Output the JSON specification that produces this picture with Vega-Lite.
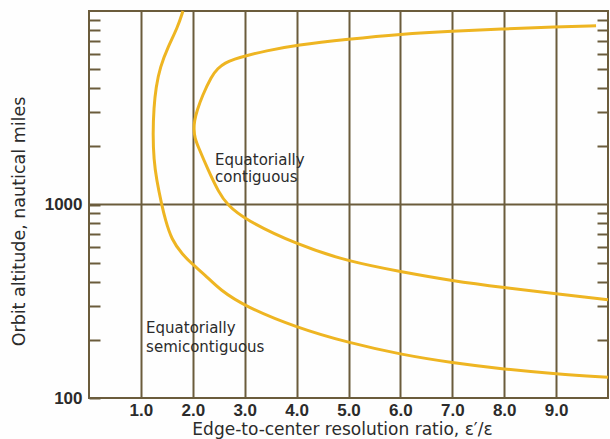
{
  "$schema": "https://vega.github.io/schema/vega-lite/v6.json",
  "width": 519,
  "height": 387,
  "autosize": "none",
  "padding": {"left": 89, "top": 11, "right": 2, "bottom": 41},
  "background": "#fefefe",
  "config": {
    "view": {"stroke": "#6b5c3c", "strokeWidth": 2},
    "font": "DejaVu Sans"
  },
  "datasets": {
    "curves": [
      {"series": "semi", "order": 1, "ratio": 1.81, "alt": 10000},
      {"series": "semi", "order": 2, "ratio": 1.71, "alt": 8260},
      {"series": "semi", "order": 3, "ratio": 1.52, "alt": 6500},
      {"series": "semi", "order": 4, "ratio": 1.37, "alt": 5130},
      {"series": "semi", "order": 5, "ratio": 1.29, "alt": 4040},
      {"series": "semi", "order": 6, "ratio": 1.25, "alt": 3180},
      {"series": "semi", "order": 7, "ratio": 1.23, "alt": 2305},
      {"series": "semi", "order": 8, "ratio": 1.25, "alt": 1700},
      {"series": "semi", "order": 9, "ratio": 1.30, "alt": 1350},
      {"series": "semi", "order": 10, "ratio": 1.40, "alt": 1000},
      {"series": "semi", "order": 11, "ratio": 1.47, "alt": 836},
      {"series": "semi", "order": 12, "ratio": 1.59, "alt": 659},
      {"series": "semi", "order": 13, "ratio": 1.80, "alt": 551},
      {"series": "semi", "order": 14, "ratio": 2.0, "alt": 489},
      {"series": "semi", "order": 15, "ratio": 2.27, "alt": 424},
      {"series": "semi", "order": 16, "ratio": 2.52, "alt": 363},
      {"series": "semi", "order": 17, "ratio": 3.0, "alt": 298},
      {"series": "semi", "order": 18, "ratio": 4.0, "alt": 231},
      {"series": "semi", "order": 19, "ratio": 5.0, "alt": 193},
      {"series": "semi", "order": 20, "ratio": 6.0, "alt": 168},
      {"series": "semi", "order": 21, "ratio": 7.0, "alt": 152},
      {"series": "semi", "order": 22, "ratio": 8.0, "alt": 141},
      {"series": "semi", "order": 23, "ratio": 9.0, "alt": 133},
      {"series": "semi", "order": 24, "ratio": 10.0, "alt": 128},
      {"series": "contig", "order": 1, "ratio": 9.77, "alt": 8380},
      {"series": "contig", "order": 2, "ratio": 9.0, "alt": 8270},
      {"series": "contig", "order": 3, "ratio": 8.0, "alt": 8070},
      {"series": "contig", "order": 4, "ratio": 7.0, "alt": 7880},
      {"series": "contig", "order": 5, "ratio": 6.0, "alt": 7600},
      {"series": "contig", "order": 6, "ratio": 5.0, "alt": 7160},
      {"series": "contig", "order": 7, "ratio": 4.0, "alt": 6670},
      {"series": "contig", "order": 8, "ratio": 3.39, "alt": 6210},
      {"series": "contig", "order": 9, "ratio": 3.0, "alt": 5850},
      {"series": "contig", "order": 10, "ratio": 2.81, "alt": 5650},
      {"series": "contig", "order": 11, "ratio": 2.62, "alt": 5400},
      {"series": "contig", "order": 12, "ratio": 2.48, "alt": 5050},
      {"series": "contig", "order": 13, "ratio": 2.36, "alt": 4600},
      {"series": "contig", "order": 14, "ratio": 2.18, "alt": 3630},
      {"series": "contig", "order": 15, "ratio": 2.08, "alt": 3050},
      {"series": "contig", "order": 16, "ratio": 2.03, "alt": 2700},
      {"series": "contig", "order": 17, "ratio": 2.02, "alt": 2450},
      {"series": "contig", "order": 18, "ratio": 2.04, "alt": 2200},
      {"series": "contig", "order": 19, "ratio": 2.10, "alt": 2000},
      {"series": "contig", "order": 20, "ratio": 2.29, "alt": 1518},
      {"series": "contig", "order": 21, "ratio": 2.50, "alt": 1154},
      {"series": "contig", "order": 22, "ratio": 2.66, "alt": 1000},
      {"series": "contig", "order": 23, "ratio": 3.0, "alt": 836},
      {"series": "contig", "order": 24, "ratio": 4.0, "alt": 621},
      {"series": "contig", "order": 25, "ratio": 5.0, "alt": 507},
      {"series": "contig", "order": 26, "ratio": 6.0, "alt": 450},
      {"series": "contig", "order": 27, "ratio": 7.0, "alt": 403},
      {"series": "contig", "order": 28, "ratio": 8.0, "alt": 372},
      {"series": "contig", "order": 29, "ratio": 9.0, "alt": 346},
      {"series": "contig", "order": 30, "ratio": 10.0, "alt": 322}
    ],
    "labels": [
      {"ratio": 2.43, "alt": 1592, "text": "Equatorially"},
      {"ratio": 2.43, "alt": 1300, "text": "contiguous"},
      {"ratio": 1.10, "alt": 217, "text": "Equatorially"},
      {"ratio": 1.10, "alt": 173, "text": "semicontiguous"}
    ],
    "refline": [{"alt": 1000}]
  },
  "layer": [
    {
      "data": {"name": "refline"},
      "mark": {"type": "rule", "color": "#6b5c3c", "strokeWidth": 2},
      "encoding": {
        "y": {
          "field": "alt", "type": "quantitative",
          "scale": {"type": "log", "domain": [100, 10000]},
          "axis": {
            "orient": "right",
            "values": [200, 300, 400, 500, 600, 700, 800, 900, 2000, 3000, 4000, 5000, 6000, 7000, 8000, 9000],
            "labels": false, "title": null, "domain": false, "grid": false,
            "tickSize": -11, "tickColor": "#6b5c3c", "tickWidth": 2
          }
        }
      }
    },
    {
      "data": {"name": "curves"},
      "mark": {"type": "line", "color": "#EEB522", "strokeWidth": 3, "interpolate": "basis"},
      "encoding": {
        "x": {
          "field": "ratio", "type": "quantitative",
          "scale": {"domain": [0, 10], "nice": false},
          "axis": {
            "values": [1, 2, 3, 4, 5, 6, 7, 8, 9],
            "format": ".1f",
            "grid": true, "gridColor": "#6b5c3c", "gridWidth": 2, "gridOpacity": 1,
            "domain": false, "ticks": false,
            "labelFont": "Liberation Sans", "labelFontSize": 17, "labelFontWeight": "bold",
            "labelColor": "#2b2b2b", "labelPadding": 4,
            "title": "Edge-to-center resolution ratio, ε′/ε",
            "titleFont": "DejaVu Sans", "titleFontSize": 17, "titleFontWeight": "normal",
            "titleColor": "#2b2b2b", "titlePadding": 3, "titleX": 253
          }
        },
        "y": {
          "field": "alt", "type": "quantitative",
          "scale": {"type": "log", "domain": [100, 10000]},
          "axis": {
            "orient": "left",
            "values": [100, 200, 300, 400, 500, 600, 700, 800, 900, 1000, 2000, 3000, 4000, 5000, 6000, 7000, 8000, 9000],
            "labelExpr": "datum.value == 100 || datum.value == 1000 ? format(datum.value, 'd') : ''",
            "domain": false, "grid": false,
            "tickSize": -11, "tickColor": "#6b5c3c", "tickWidth": 2,
            "labelFont": "Liberation Sans", "labelFontSize": 17, "labelFontWeight": "bold",
            "labelColor": "#2b2b2b", "labelPadding": 18,
            "title": "Orbit altitude, nautical miles",
            "titleFont": "DejaVu Sans", "titleFontSize": 17.5, "titleFontWeight": "normal",
            "titleColor": "#2b2b2b", "titlePadding": 16, "titleY": 210
          }
        },
        "detail": {"field": "series"},
        "order": {"field": "order", "type": "quantitative"}
      }
    },
    {
      "data": {"name": "labels"},
      "mark": {"type": "text", "align": "left", "baseline": "alphabetic", "fontSize": 15, "color": "#2b2b2b", "font": "DejaVu Sans"},
      "encoding": {
        "x": {"field": "ratio", "type": "quantitative"},
        "y": {"field": "alt", "type": "quantitative", "axis": null},
        "text": {"field": "text"}
      }
    }
  ],
  "resolve": {"axis": {"y": "independent"}}
}
